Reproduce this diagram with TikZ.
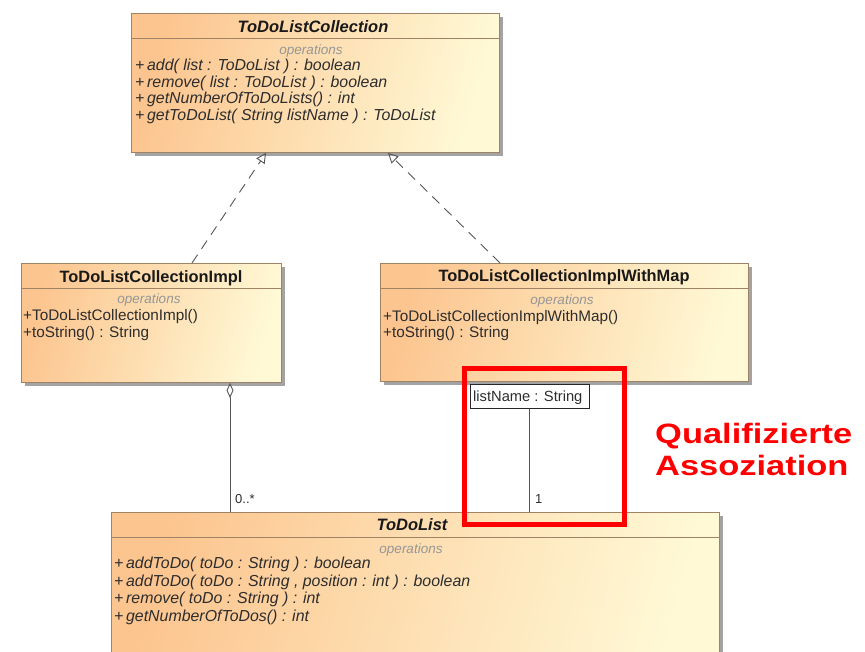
\documentclass[tikz,border=0pt]{standalone}
\usepackage{fontspec}
\setmainfont{Liberation Sans}
\usetikzlibrary{arrows.meta,calc,shadows}
\definecolor{boxleft}{RGB}{252,197,143}
\definecolor{boxright}{RGB}{255,249,214}
\definecolor{boxborder}{RGB}{160,130,100}
\definecolor{optext}{RGB}{45,45,45}
\definecolor{opgray}{RGB}{150,150,150}
\definecolor{linegray}{RGB}{85,85,85}
\tikzset{
  classbox/.style={draw=boxborder, line width=0.9pt, left color=boxleft, right color=boxright,
    shading angle=75, anchor=north west, inner sep=0pt,
    drop shadow={shadow xshift=3.5pt, shadow yshift=-3.5pt, fill=black!45, opacity=0.8}},
  header/.style={anchor=base, font=\fontsize{16.4}{18}\selectfont\bfseries, text=black!90, inner sep=0pt},
  iheader/.style={header, font=\fontsize{16.5}{18}\selectfont\bfseries\itshape},
  opslabel/.style={anchor=base, font=\fontsize{13.5}{15}\selectfont\itshape, text=opgray, inner sep=0pt},
  op/.style={anchor=base west, font=\fontsize{15.3}{17}\selectfont, text=optext, inner sep=0pt},
  iop/.style={op, font=\fontsize{15.9}{17}\selectfont\itshape},
  realize/.style={draw=linegray, line width=0.9pt, dash pattern=on 10pt off 7pt, -{Triangle[open, length=10pt, width=10pt]}},
  assoc/.style={draw=linegray, line width=0.9pt},
  mult/.style={anchor=base west, font=\fontsize{13}{15}\selectfont, text=optext, inner sep=0pt},
  qualbox/.style={draw=black!85, line width=0.9pt, fill=white, anchor=north west, inner sep=0pt},
  redbox/.style={draw=red, line width=5pt},
  redtext/.style={anchor=base west, font=\fontsize{28}{32}\selectfont\bfseries, text=red, inner sep=0pt}
}
\begin{document}
\begin{tikzpicture}[x=1pt,y=-1pt]
\clip (0,0) rectangle (865,651);
\fill[white] (0,0) rectangle (865,651);

% ToDoListCollection
\node[classbox, minimum width=368pt, minimum height=139pt] (coll) at (131,13) {};
\draw[boxborder, line width=0.9pt] (131,38) -- (499,38);
\node[iheader] (collh) at (313,32) {ToDoListCollection};
\node[opslabel] (collo) at (311,54) {operations};
\node[iop] (coll1) at (135,70) {+\,add( list : ToDoList ) : boolean};
\node[iop] (coll2) at (135,87) {+\,remove( list : ToDoList ) : boolean};
\node[iop] (coll3) at (135,103.5) {+\,getNumberOfToDoLists() : int};
\node[iop] (coll4) at (135,120) {+\,getToDoList( String listName ) : ToDoList};

% ToDoListCollectionImpl
\node[classbox, minimum width=260pt, minimum height=119pt] (impl) at (21,263) {};
\draw[boxborder, line width=0.9pt] (21,288) -- (281,288);
\node[header] (implh) at (151,282) {ToDoListCollectionImpl};
\node[opslabel] (implo) at (149,303.5) {operations};
\node[op] (impl1) at (23,320.5) {+ToDoListCollectionImpl()};
\node[op] (impl2) at (23,337.5) {+toString() : String};

% ToDoListCollectionImplWithMap
\node[classbox, minimum width=368pt, minimum height=118pt] (map) at (380,263) {};
\draw[boxborder, line width=0.9pt] (380,288) -- (748,288);
\node[header] (maph) at (564,281.5) {ToDoListCollectionImplWithMap};
\node[opslabel] (mapo) at (562,304) {operations};
\node[op] (map1) at (383,321) {+ToDoListCollectionImplWithMap()};
\node[op] (map2) at (383,337.5) {+toString() : String};

% ToDoList
\node[classbox, minimum width=608pt, minimum height=170pt] (todo) at (111,512) {};
\draw[boxborder, line width=0.9pt] (111,537) -- (719,537);
\node[iheader] (todoh) at (412,530) {ToDoList};
\node[opslabel] (todoo) at (411,553) {operations};
\node[iop] (todo1) at (114,568.5) {+\,addToDo( toDo : String ) : boolean};
\node[iop] (todo2) at (114,586) {+\,addToDo( toDo : String , position : int ) : boolean};
\node[iop] (todo3) at (114,603.5) {+\,remove( toDo : String ) : int};
\node[iop] (todo4) at (114,621) {+\,getNumberOfToDos() : int};

% qualifier
\node[qualbox, minimum width=119pt, minimum height=24pt] (qual) at (469.5,384) {};
\node[anchor=base west, font=\fontsize{14.7}{16}\selectfont, text=optext, inner sep=0pt] (qualt) at (473,401) {listName : String};

% realizations
\coordinate (r1s) at ($(impl.north west)+(171,0)$);
\coordinate (r1e) at ($(coll.south west)+(135,0)$);
\draw[realize] (r1s) -- (r1e);
\coordinate (r2s) at ($(map.north west)+(120,0)$);
\coordinate (r2e) at ($(coll.south west)+(257,0)$);
\draw[realize] (r2s) -- (r2e);

% aggregation
\coordinate (a1s) at ($(impl.south west)+(209,0)$);
\coordinate (a1e) at ($(todo.north west)+(119,0)$);
\draw[assoc, {Diamond[open, length=15pt, width=7pt]}-] (a1s) -- (a1e);
\node[mult] (m1) at (235,503) {0..*};

% qualified association
\coordinate (q1e) at ($(todo.north west)+(418.5,0)$);
\draw[assoc] (qual.south) -- (q1e);
\node[mult] (m2) at (535,503) {1};

% red highlight
\node[redbox, minimum width=160pt, minimum height=156pt, anchor=north west, inner sep=0pt] (hl) at (461.5,365.5) {};
\node[redtext] (rt1) at (655,443) {\scalebox{1.23}[1]{Qualifizierte}};
\node[redtext] (rt2) at (655,475) {\scalebox{1.23}[1]{Assoziation}};
\end{tikzpicture}
\end{document}
